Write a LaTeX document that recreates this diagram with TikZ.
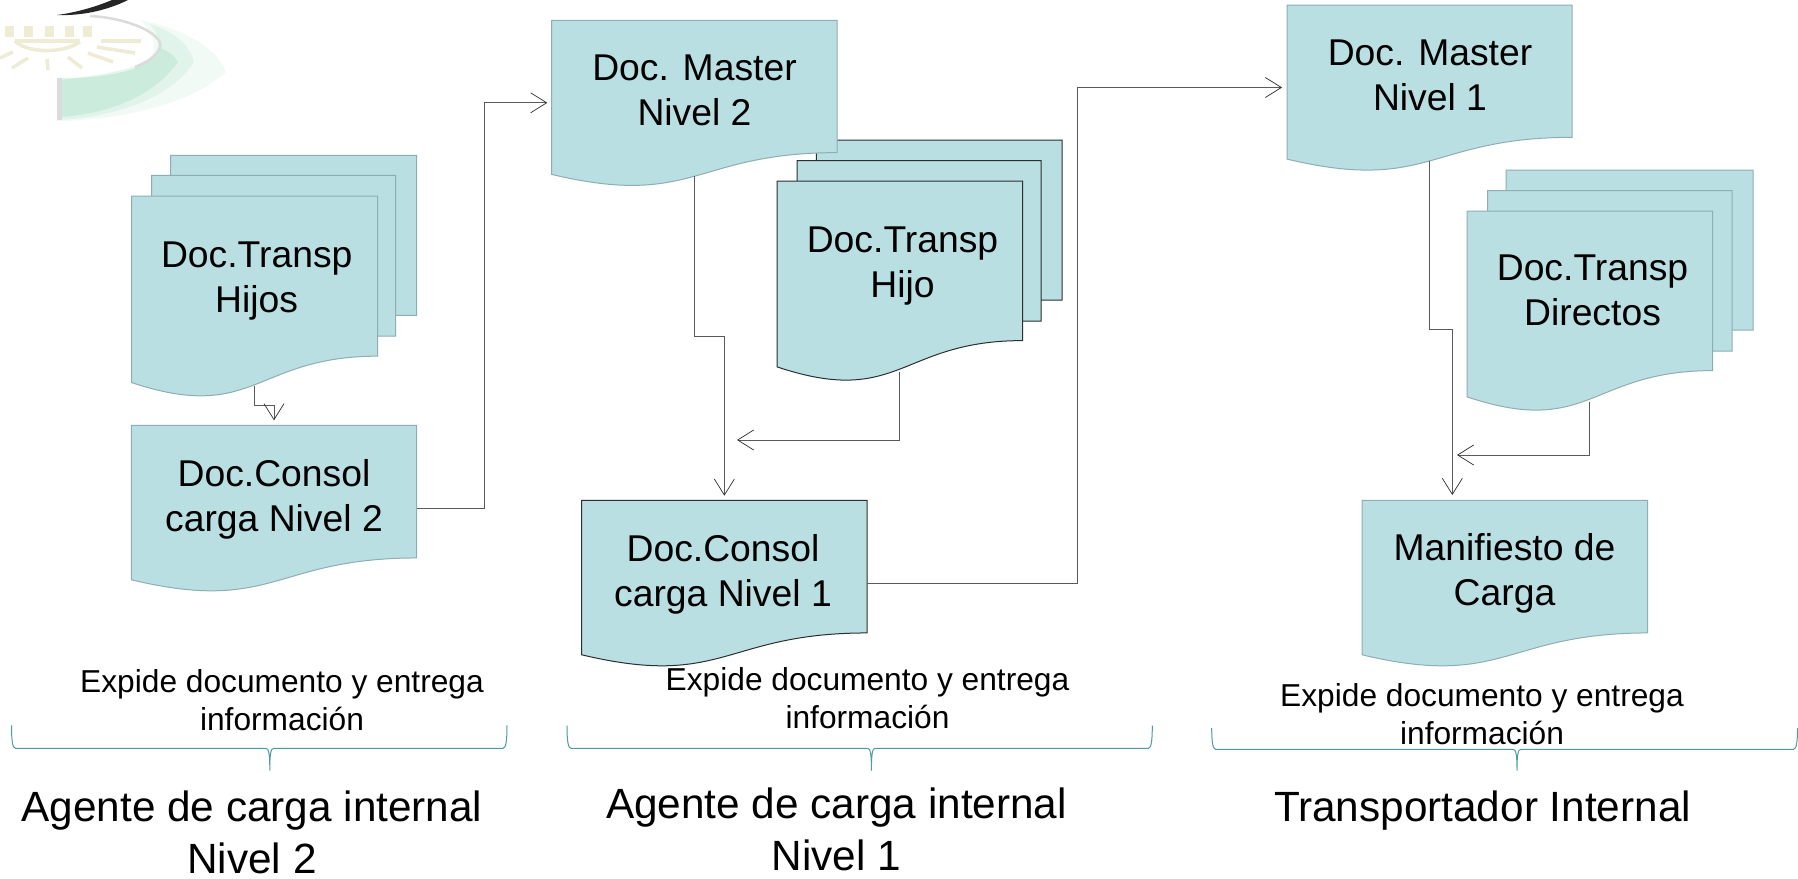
\documentclass[tikz,border=0pt]{standalone}
\usepackage{fontspec}
\setmainfont{Liberation Sans}
\usetikzlibrary{arrows.meta}
\definecolor{docfill}{HTML}{B9DFE2}
\definecolor{docline}{HTML}{8FADB2}
\definecolor{docdark}{HTML}{2A2F30}
\definecolor{connline}{HTML}{5A5A5A}
\definecolor{braceline}{HTML}{4E9BA6}
\definecolor{sunpale}{HTML}{EEECD4}
\tikzset{
  sheet/.style={fill=docfill,draw=docline,line width=1pt,line join=miter},
  darksheet/.style={fill=docfill,draw=docdark,line width=1pt,line join=miter},
  docbox/.style={inner sep=0pt,outer sep=0pt},
  doctext/.style={font=\fontsize{37.3}{45}\selectfont,align=center,anchor=base,inner sep=0pt,text=black},
  smalltext/.style={font=\fontsize{31.7}{38}\selectfont,align=center,anchor=base,inner sep=0pt,text=black},
  bigtext/.style={font=\fontsize{42.3}{52}\selectfont,align=center,anchor=base,inner sep=0pt,text=black},
  conn/.style={draw=connline,line width=1pt,-{Straight Barb[length=16pt,width=20pt,line width=0.7pt,color=docdark]}},
  bracestroke/.style={draw=braceline,line width=1pt}
}
% wavy document sheet with bounding box L T R B and a named box node
\newcommand{\docsheet}[6][sheet]{%
  \draw[#1] (#3,#4) -- (#5,#4) -- (#5,{#4+0.802*(#6-#4)})
    .. controls ({(#3+#5)/2},{#4+0.802*(#6-#4)}) and ({(#3+#5)/2},{#4+1.14*(#6-#4)}) ..
    (#3,{#4+0.934*(#6-#4)}) -- cycle;
  \node[docbox,minimum width={(#5-#3)*1pt},minimum height={(#6-#4)*1pt}] (#2) at ({(#3+#5)/2},{(#4+#6)/2}) {};
}
% sheet behind the front one of a stack
\newcommand{\backsheet}[5][sheet]{%
  \draw[#1] (#2,#3) -- (#4,#3) -- (#4,#5) -- ({#2+30},{#5+2}) -- (#2,{#5+4}) -- cycle;
}
% curly brace: left, top, right, y of the bar, stem x, stem bottom
\newcommand{\bracket}[6]{%
  \draw[bracestroke] (#1,#2) .. controls (#1,{#4-8}) and ({#1+1},#4) .. ({#1+4},#4)
    -- ({#5-4},#4) .. controls ({#5-1},#4) and (#5,{#4+5}) .. (#5,#6)
    .. controls (#5,{#4+5}) and ({#5+1},#4) .. ({#5+4},#4)
    -- ({#3-4},#4) .. controls ({#3-1},#4) and (#3,{#4-8}) .. (#3,#2);
}
\begin{document}
\begin{tikzpicture}[x=1pt,y=-1pt]
\useasboundingbox (0,0) rectangle (1798,878);
\fill[white] (0,0) rectangle (1798,878);

% logo remnant
\begin{scope}
  \fill[green!30!teal,opacity=0.05] (57,78) -- (57,121) .. controls (120,120) and (190,105) .. (226,72) .. controls (215,45) and (180,28) .. (140,20) .. controls (160,40) and (160,62) .. (130,70) .. controls (100,78) and (80,78) .. (57,78) -- cycle;
  \fill[green!30!teal,opacity=0.07] (57,78) -- (57,120) .. controls (110,118) and (170,100) .. (194,62) .. controls (190,45) and (175,32) .. (150,24) .. controls (165,42) and (160,60) .. (130,70) .. controls (100,78) and (80,78) .. (57,78) -- cycle;
  \fill[green!30!teal,opacity=0.09] (60,80) -- (60,117) .. controls (110,114) and (155,95) .. (178,62) .. controls (172,52) and (165,50) .. (160,48) .. controls (155,62) and (130,72) .. (60,80) -- cycle;
  \draw[black!14,line width=2.5pt] (90,16) .. controls (130,18) and (165,35) .. (160,48) .. controls (156,56) and (148,62) .. (135,67);
  \fill[black!14] (57,78) rectangle (62,120);
  \fill[black,opacity=0.85] (57,15) .. controls (80,12) and (100,5) .. (112,0) -- (128,0) .. controls (110,9) and (85,16) .. (57,15) -- cycle;
  \begin{scope}[draw=sunpale,line width=3.5pt]
    \foreach \a in {5,24,45,65,83} {\fill[sunpale] (\a,26) rectangle ({\a+9},37);}
    \draw (15,41) .. controls (25,52) and (60,55) .. (80,42);
    \draw (15,41) -- (80,41);
    \draw (101,41) -- (141,41);
    \draw (97,47) -- (135,53);
    \draw (88,53) -- (113,62);
    \draw (68,57) -- (82,68);
    \draw (47,59) -- (48,70);
    \draw (28,58) -- (12,68);
    \draw (13,52) -- (0,58);
  \end{scope}
\end{scope}

% stacks and sheets, column 1
\backsheet{170.7}{155.3}{416.7}{315.3}
\backsheet{151.7}{175.3}{395.7}{336}
\docsheet{hijos}{131.5}{196}{377.7}{395.7}
\docsheet{consolB}{131.3}{425.3}{416.7}{590.7}

% column 2 (stack lies behind the master sheet)
\backsheet[darksheet]{816.4}{140}{1062}{300}
\backsheet[darksheet]{797}{160.7}{1041}{321}
\docsheet[darksheet]{hijo}{777}{181}{1022.5}{380}
\docsheet{masterB}{551.7}{20.3}{837}{185.3}
\docsheet[darksheet]{consolA}{581.7}{500.3}{867}{665.7}

% column 3
\docsheet{masterA}{1287}{5}{1572}{170}
\backsheet{1506}{170}{1753}{330}
\backsheet{1487.5}{190.7}{1732}{351}
\docsheet{directos}{1467}{211}{1712.6}{410}
\docsheet{manifiesto}{1362}{500.3}{1647.7}{665.7}

% free connector ends
\coordinate (hijoend) at (737,440);
\coordinate (direnda) at (1457,455);
\coordinate (manend) at (1452.3,495);

% connectors
\draw[conn,shorten >=5pt] ([yshift=9.5pt]hijos.south) -- +(0,19.7) -| (consolB.north);
\draw[conn,shorten >=4.4pt] (consolB.east) -- +(68,0) |- (masterB.west);
\draw[conn,shorten >=4.6pt] ([yshift=9.5pt]masterB.south) -- +(0,161) -| (consolA.north);
\draw[conn] ([yshift=8.5pt]hijo.south) |- (hijoend);
\draw[conn,shorten >=5pt] (consolA.east) -- +(210.3,0) |- (masterA.west);
\draw[conn] ([yshift=9.5pt]masterA.south) -- +(0,169) -| (manend);
\draw[conn] ([yshift=8.5pt]directos.south) |- (direnda);

% sheet texts
\node[doctext] (thijos) at (256.7,312.5) {Doc.Transp\\Hijos};
\node[doctext] (tconsolB) at (274,531) {Doc.Consol\\carga Nivel 2};
\node[doctext] (tmasterB) at (694.5,125.5) {Doc. Master\\Nivel 2};
\node[doctext] (thijo) at (902.5,297) {Doc.Transp\\Hijo};
\node[doctext] (tconsolA) at (723,606) {Doc.Consol\\carga Nivel 1};
\node[doctext] (tmasterA) at (1430,110.5) {Doc. Master\\Nivel 1};
\node[doctext] (tdirectos) at (1592.5,325) {Doc.Transp\\Directos};
\node[doctext] (tmanifiesto) at (1504.5,605) {Manifiesto de\\Carga};

% captions
\node[smalltext] (expideA) at (282,730) {Expide documento y entrega\\información};
\node[smalltext] (expideB) at (867.5,728) {Expide documento y entrega\\información};
\node[smalltext] (expideC) at (1482,744.3) {Expide documento y entrega\\información};

% braces
\bracket{11.5}{725.3}{507}{748.3}{269.8}{770.7}
\bracket{567}{725.7}{1152.3}{748.3}{871.4}{770.7}
\bracket{1211.7}{728.2}{1797.5}{749.3}{1517}{770.7}

% role titles
\node[bigtext] (roleA) at (252,873.3) {Agente de carga internal\\Nivel 2};
\node[bigtext] (roleB) at (836.5,870.7) {Agente de carga internal\\Nivel 1};
\node[bigtext] (roleC) at (1482.5,821.7) {Transportador Internal};
\end{tikzpicture}
\end{document}
